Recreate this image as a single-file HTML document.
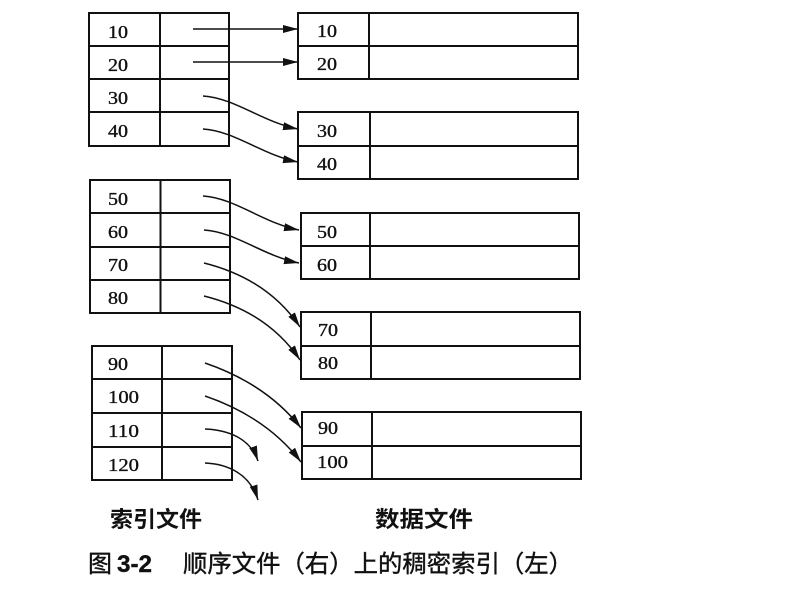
<!DOCTYPE html>
<html>
<head>
<meta charset="utf-8">
<style>
  html, body { margin: 0; padding: 0; background: #fff; }
  svg { display: block; }
  .num { font-family: "Liberation Serif", "DejaVu Serif", serif; font-size: 18px; fill: #111; stroke: #111; stroke-width: 0.35; }
  .lbl { font-family: "Liberation Sans", "Noto Sans CJK SC", sans-serif; font-weight: bold; font-size: 22px; fill: #111; }
  .cap { font-family: "Liberation Sans", "Noto Sans CJK SC", sans-serif; font-size: 24px; fill: #111; stroke: #111; stroke-width: 0.4; }
  .box { fill: none; stroke: #111; stroke-width: 2; }
  .ln { stroke: #111; stroke-width: 2; }
  .arr { fill: none; stroke: #111; stroke-width: 1.5; marker-end: url(#ah); }
</style>
</head>
<body>
<svg width="788" height="594" viewBox="0 0 788 594" xmlns="http://www.w3.org/2000/svg">
  <defs>
    <marker id="ah" markerUnits="userSpaceOnUse" markerWidth="18" markerHeight="10" refX="15" refY="4" orient="auto">
      <path d="M0,0 L15,4 L0,8 Z" fill="#111"/>
    </marker>
  </defs>
  <rect x="0" y="0" width="788" height="594" fill="#fff"/>

  <!-- Index table 1 -->
  <rect class="box" x="89" y="13" width="140" height="133"/>
  <line class="ln" x1="160" y1="13" x2="160" y2="146"/>
  <line class="ln" x1="89" y1="46" x2="229" y2="46"/>
  <line class="ln" x1="89" y1="79" x2="229" y2="79"/>
  <line class="ln" x1="89" y1="112" x2="229" y2="112"/>
  <text class="num" x="108" y="38" textLength="20" lengthAdjust="spacingAndGlyphs">10</text>
  <text class="num" x="108" y="71" textLength="20" lengthAdjust="spacingAndGlyphs">20</text>
  <text class="num" x="108" y="104" textLength="20" lengthAdjust="spacingAndGlyphs">30</text>
  <text class="num" x="108" y="137" textLength="20" lengthAdjust="spacingAndGlyphs">40</text>

  <!-- Index table 2 -->
  <rect class="box" x="90" y="180" width="140" height="133"/>
  <line class="ln" x1="160.5" y1="180" x2="160.5" y2="313"/>
  <line class="ln" x1="90" y1="213" x2="230" y2="213"/>
  <line class="ln" x1="90" y1="247" x2="230" y2="247"/>
  <line class="ln" x1="90" y1="280" x2="230" y2="280"/>
  <text class="num" x="108" y="205" textLength="20" lengthAdjust="spacingAndGlyphs">50</text>
  <text class="num" x="108" y="238" textLength="20" lengthAdjust="spacingAndGlyphs">60</text>
  <text class="num" x="108" y="271" textLength="20" lengthAdjust="spacingAndGlyphs">70</text>
  <text class="num" x="108" y="304" textLength="20" lengthAdjust="spacingAndGlyphs">80</text>

  <!-- Index table 3 -->
  <rect class="box" x="92" y="346" width="140" height="134"/>
  <line class="ln" x1="162" y1="346" x2="162" y2="480"/>
  <line class="ln" x1="92" y1="379" x2="232" y2="379"/>
  <line class="ln" x1="92" y1="413" x2="232" y2="413"/>
  <line class="ln" x1="92" y1="447" x2="232" y2="447"/>
  <text class="num" x="108" y="370" textLength="20" lengthAdjust="spacingAndGlyphs">90</text>
  <text class="num" x="108" y="403" textLength="31" lengthAdjust="spacingAndGlyphs">100</text>
  <text class="num" x="108" y="437" textLength="31" lengthAdjust="spacingAndGlyphs">110</text>
  <text class="num" x="108" y="471" textLength="31" lengthAdjust="spacingAndGlyphs">120</text>

  <!-- Data table 1 -->
  <rect class="box" x="298" y="13" width="280" height="66"/>
  <line class="ln" x1="369" y1="13" x2="369" y2="79"/>
  <line class="ln" x1="298" y1="46" x2="578" y2="46"/>
  <text class="num" x="317" y="37" textLength="20" lengthAdjust="spacingAndGlyphs">10</text>
  <text class="num" x="317" y="70" textLength="20" lengthAdjust="spacingAndGlyphs">20</text>

  <!-- Data table 2 -->
  <rect class="box" x="298" y="112" width="280" height="67"/>
  <line class="ln" x1="370" y1="112" x2="370" y2="179"/>
  <line class="ln" x1="298" y1="146" x2="578" y2="146"/>
  <text class="num" x="317" y="137" textLength="20" lengthAdjust="spacingAndGlyphs">30</text>
  <text class="num" x="317" y="170" textLength="20" lengthAdjust="spacingAndGlyphs">40</text>

  <!-- Data table 3 -->
  <rect class="box" x="301" y="213" width="278" height="66"/>
  <line class="ln" x1="370" y1="213" x2="370" y2="279"/>
  <line class="ln" x1="301" y1="246" x2="579" y2="246"/>
  <text class="num" x="317" y="238" textLength="20" lengthAdjust="spacingAndGlyphs">50</text>
  <text class="num" x="317" y="271" textLength="20" lengthAdjust="spacingAndGlyphs">60</text>

  <!-- Data table 4 -->
  <rect class="box" x="301" y="312" width="279" height="67"/>
  <line class="ln" x1="371" y1="312" x2="371" y2="379"/>
  <line class="ln" x1="301" y1="346" x2="580" y2="346"/>
  <text class="num" x="318" y="336" textLength="20" lengthAdjust="spacingAndGlyphs">70</text>
  <text class="num" x="318" y="369" textLength="20" lengthAdjust="spacingAndGlyphs">80</text>

  <!-- Data table 5 -->
  <rect class="box" x="302" y="412" width="279" height="67"/>
  <line class="ln" x1="372" y1="412" x2="372" y2="479"/>
  <line class="ln" x1="302" y1="446" x2="581" y2="446"/>
  <text class="num" x="318" y="434" textLength="20" lengthAdjust="spacingAndGlyphs">90</text>
  <text class="num" x="317" y="468" textLength="31" lengthAdjust="spacingAndGlyphs">100</text>

  <!-- Arrows -->
  <path class="arr" d="M193,29 L298,29"/>
  <path class="arr" d="M193,62 L298,62"/>
  <path class="arr" d="M203,96 C235,98 262,122 298,129"/>
  <path class="arr" d="M203,129 C235,131 262,155 298,162"/>
  <path class="arr" d="M203,196 C235,198 263,223 299,230"/>
  <path class="arr" d="M204,230 C236,232 263,256 299,263"/>
  <path class="arr" d="M204,263 C240,272 275,290 300,327"/>
  <path class="arr" d="M204,296 C240,305 275,323 300,360"/>
  <path class="arr" d="M205,363 C240,375 275,395 301,428"/>
  <path class="arr" d="M205,396 C240,408 275,428 301,462"/>
  <path class="arr" d="M205,429 C228,430 250,438 258,461"/>
  <path class="arr" d="M205,463 C228,464 250,474 258,500"/>

  <!-- Labels -->
  <text class="lbl" x="110" y="527" textLength="92" lengthAdjust="spacingAndGlyphs">索引文件</text>
  <text class="lbl" x="375" y="527" textLength="98" lengthAdjust="spacingAndGlyphs">数据文件</text>

  <!-- Caption -->
  <text class="cap" x="88" y="572">图</text>
  <text class="cap" x="117" y="572" font-weight="bold" textLength="35" lengthAdjust="spacingAndGlyphs">3-2</text>
  <text class="cap" x="183" y="572" textLength="390" lengthAdjust="spacingAndGlyphs">顺序文件（右）上的稠密索引（左）</text>
</svg>
</body>
</html>
